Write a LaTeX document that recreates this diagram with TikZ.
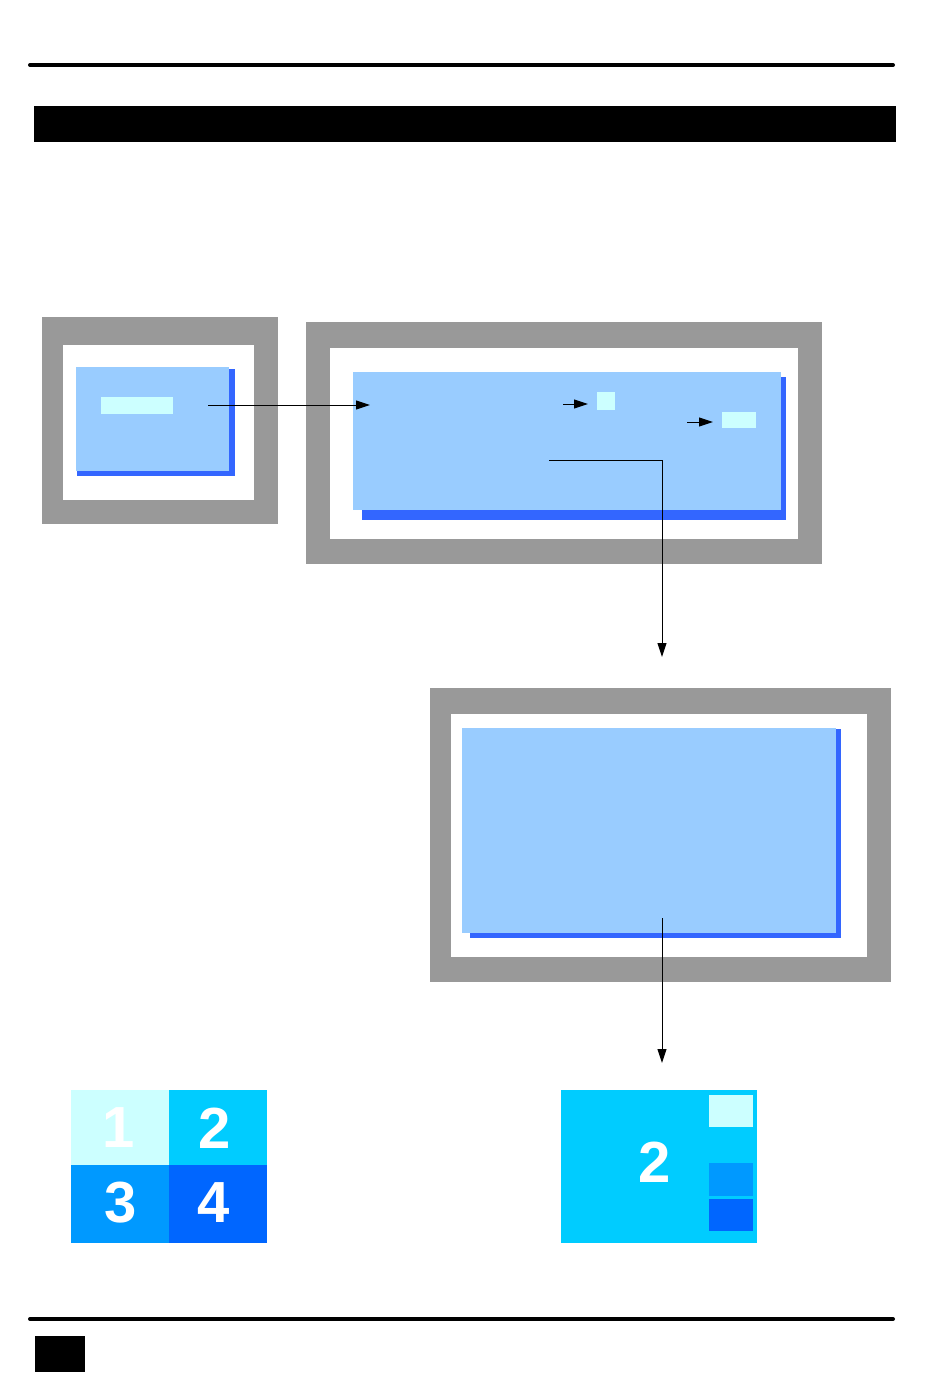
\documentclass[tikz,border=0pt]{standalone}
\usepackage{fontspec}
\setmainfont{Liberation Sans}
\usetikzlibrary{arrows.meta, positioning}
\definecolor{framegrey}{HTML}{999999}
\definecolor{screenblue}{HTML}{99CCFF}
\definecolor{shadowblue}{HTML}{3366FF}
\definecolor{paleblue}{HTML}{CCFFFF}
\definecolor{skyblue}{HTML}{00CCFF}
\definecolor{midblue}{HTML}{0099FF}
\definecolor{deepblue}{HTML}{0066FF}

\begin{document}
\begin{tikzpicture}[x=1pt, y=-1pt, every node/.style={inner sep=0pt, outer sep=0pt}]
    \tikzset{
      box/.style={rectangle, anchor=north west, draw=none},
      sz/.style 2 args={minimum width=#1pt, minimum height=#2pt},
      frame/.style={box, fill=framegrey},
      bezel/.style={box, fill=white},
      screen/.style={box, fill=screenblue},
      shade/.style={box, fill=shadowblue},
      tag/.style={box, fill=paleblue},
      tile/.style={box},
      digit/.style={text=white, font=\fontsize{58}{58}\selectfont\bfseries},
      link/.style={line width=1pt, -{Triangle[length=14pt, width=9pt]}},
      rule/.style={line width=4pt, line cap=round}}
    \useasboundingbox (0,0) rectangle (950,1379);
    % page rules and header
    \draw[rule] (30,65) -- (893,65);
    \node[box, fill=black, sz={862}{36}] (header) at (34,106) {};
    \draw[rule] (30,1319) -- (893,1319);
    \node[box, fill=black, sz={50}{36}] (pageno) at (35,1336) {};
    % monitor 1
    \node[frame, sz={236}{207}] (m1) at (42,317) {};
    \node[bezel, sz={191}{155}] (m1b) at (63,345) {};
    \node[shade, sz={158}{107}] (m1s) at (77,369) {};
    \node[screen, sz={153}{104}] (m1v) at (76,367) {};
    \node[tag, sz={72}{17}] (m1t) at (101,397) {};
    % monitor 2
    \node[frame, sz={516}{242}] (m2) at (306,322) {};
    \node[bezel, sz={468}{191}] (m2b) at (330,348) {};
    \node[shade, sz={424}{143}] (m2s) at (362,377) {};
    \node[screen, sz={428}{138}] (m2v) at (353,372) {};
    \node[tag, sz={18}{18}] (m2t1) at (597,392) {};
    \node[tag, sz={34}{16}] (m2t2) at (722,412) {};
    % monitor 3
    \node[frame, sz={461}{294}] (m3) at (430,688) {};
    \node[bezel, sz={416}{243}] (m3b) at (451,714) {};
    \node[shade, sz={371}{209}] (m3s) at (470,729) {};
    \node[screen, sz={374}{205}] (m3v) at (462,728) {};
    % quad view
    \node[tile, fill=paleblue, sz={98}{75}] (q1) at (71,1090) {};
    \node[tile, fill=skyblue, sz={98}{75}] (q2) at (169,1090) {};
    \node[tile, fill=midblue, sz={98}{78}] (q3) at (71,1165) {};
    \node[tile, fill=deepblue, sz={98}{78}] (q4) at (169,1165) {};
    \node[digit] (d1) at (119,1128) {1};
    \node[digit] (d2) at (215,1128) {2};
    \node[digit] (d3) at (121,1203) {3};
    \node[digit] (d4) at (214,1203) {4};
    % full view
    \node[tile, fill=skyblue, sz={196}{153}] (fv) at (561,1090) {};
    \node[digit] (fvd) at (655,1162) {2};
    \node[tile, fill=paleblue, sz={44}{32}] (fv1) at (709,1095) {};
    \node[tile, fill=midblue, sz={44}{33}] (fv3) at (709,1163) {};
    \node[tile, fill=deepblue, sz={44}{32}] (fv4) at (709,1199) {};
    % connectors
    \coordinate (m1out) at (208,405);
    \coordinate (m2in) at (370,405);
    \coordinate (m2a) at (563,404);
    \coordinate (m2b) at (588,404);
    \coordinate (m2c) at (687,422);
    \coordinate (m2d) at (713,422);
    \coordinate (m2out) at (549,460);
    \coordinate (m3in) at (662,657);
    \coordinate (m3out) at (662,918);
    \coordinate (fvin) at (662,1063);
    \draw[link] (m1out) -- (m2in);
    \draw[link] (m2a) -- (m2b);
    \draw[link] (m2c) -- (m2d);
    \draw[link] (m2out) -| (m3in);
    \draw[link] (m3out) -- (fvin);
  \end{tikzpicture}
\end{document}
